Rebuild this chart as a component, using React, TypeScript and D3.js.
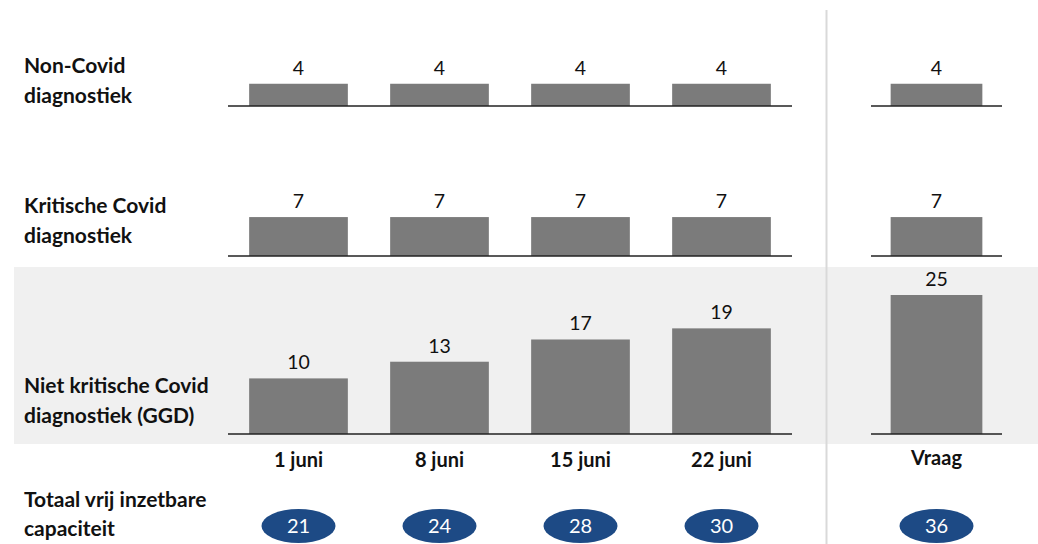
import React from "react";
import * as d3 from "d3";

const weeks = ["1 juni", "8 juni", "15 juni", "22 juni"];
const demandLabel = "Vraag";

const rowLabels = [
  ["Non-Covid", "diagnostiek"],
  ["Kritische Covid", "diagnostiek"],
  ["Niet kritische Covid", "diagnostiek (GGD)"],
];
const nonCovid = [4, 4, 4, 4];
const kritisch = [7, 7, 7, 7];
const nietKritisch = [10, 13, 17, 19];
const demand = [4, 7, 25];

const totalLabel = ["Totaal vrij inzetbare", "capaciteit"];
const totals = [21, 24, 28, 30];
const demandTotal = 36;

const W = 1038;
const H = 544;
const FONT = "Lato, 'Open Sans', sans-serif";
const BAR = "#7b7b7b";
const NAVY = "#1d4a85";

// rows share one value scale, each row has its own baseline
const baselines = [106, 256, 434];
const labelTops = [73, 213, 393];

export default function App() {
  const x = d3
    .scaleBand<string>()
    .domain(weeks)
    .range([228, 792])
    .paddingInner(0.3)
    .paddingOuter(0.15);

  const xv = d3
    .scaleBand<string>()
    .domain([demandLabel])
    .range([871, 1002])
    .paddingInner(0.3)
    .paddingOuter(0.15);

  const h = d3.scaleLinear().domain([0, 25]).range([0, 139]);

  const series = [nonCovid, kritisch, nietKritisch];

  return (
    <svg
      width={W}
      height={H}
      style={{ position: "absolute", left: 0, top: 0, background: "#fff" }}
      fontFamily={FONT}
    >
      {/* shaded band behind the third row */}
      <rect x={14} y={267} width={W - 14} height={177} fill="#f0f0f0" />
      <line x1={826.5} x2={826.5} y1={10} y2={H} stroke="#d9d9d9" strokeWidth={2} />

      {series.map((vals, r) => {
        const base = baselines[r];
        const dv = demand[r];
        return (
          <g key={r}>
            <text x={24} y={labelTops[r]} fontSize={21} fontWeight="bold" fill="#111">
              {rowLabels[r][0]}
            </text>
            <text x={24} y={labelTops[r] + 30} fontSize={21} fontWeight="bold" fill="#111">
              {rowLabels[r][1]}
            </text>
            {vals.map((v, i) => {
              const bx = x(weeks[i])!;
              return (
                <g key={i}>
                  <rect x={bx} y={base - h(v)} width={x.bandwidth()} height={h(v)} fill={BAR} />
                  <text
                    x={bx + x.bandwidth() / 2}
                    y={base - h(v) - 9}
                    textAnchor="middle"
                    fontSize={19.5}
                    fill="#111"
                  >
                    {v}
                  </text>
                </g>
              );
            })}
            <line x1={x.range()[0]} x2={x.range()[1]} y1={base} y2={base} stroke="#222" strokeWidth={1.5} />
            <rect
              x={xv(demandLabel)!}
              y={base - h(dv)}
              width={xv.bandwidth()}
              height={h(dv)}
              fill={BAR}
            />
            <text
              x={xv(demandLabel)! + xv.bandwidth() / 2}
              y={base - h(dv) - 9}
              textAnchor="middle"
              fontSize={19.5}
              fill="#111"
            >
              {dv}
            </text>
            <line x1={xv.range()[0]} x2={xv.range()[1]} y1={base} y2={base} stroke="#222" strokeWidth={1.5} />
          </g>
        );
      })}

      {weeks.map((w) => (
        <text
          key={w}
          x={x(w)! + x.bandwidth() / 2}
          y={467}
          textAnchor="middle"
          fontSize={20}
          fontWeight="bold"
          fill="#111"
        >
          {w}
        </text>
      ))}
      <text
        x={xv(demandLabel)! + xv.bandwidth() / 2}
        y={465}
        textAnchor="middle"
        fontSize={20}
        fontWeight="bold"
        fill="#111"
      >
        {demandLabel}
      </text>

      <text x={24} y={507} fontSize={21} fontWeight="bold" fill="#111">
        {totalLabel[0]}
      </text>
      <text x={24} y={536} fontSize={21} fontWeight="bold" fill="#111">
        {totalLabel[1]}
      </text>
      {[...totals, demandTotal].map((t, i) => {
        const cx =
          i < weeks.length
            ? x(weeks[i])! + x.bandwidth() / 2
            : xv(demandLabel)! + xv.bandwidth() / 2;
        return (
          <g key={i}>
            <ellipse cx={cx} cy={526} rx={37} ry={17} fill={NAVY} />
            <text x={cx} y={533} textAnchor="middle" fontSize={20} fill="#fff">
              {t}
            </text>
          </g>
        );
      })}
    </svg>
  );
}
